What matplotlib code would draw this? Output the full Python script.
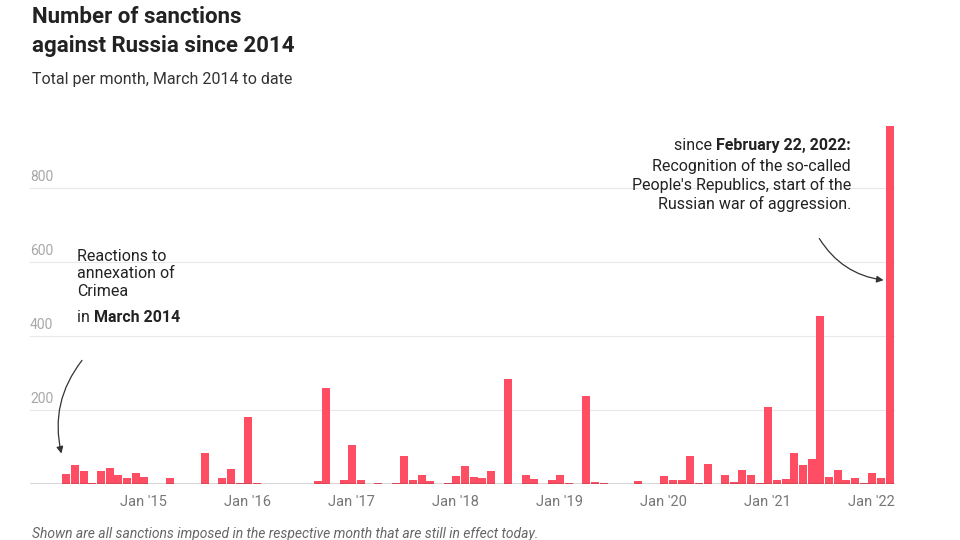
import matplotlib.pyplot as plt

plt.rcParams['font.family'] = ['Roboto', 'DejaVu Sans']

# monthly counts, March 2014 .. February 2022 (month index 0 = Mar 2014)
months = list(range(96))
counts = [27, 51, 36, 4, 36, 44, 23, 17, 31, 20, 0, 0, 17, 0, 0, 0,
          84, 0, 17, 41, 4, 180, 4, 0, 0, 0, 0, 0, 0, 9, 260, 0,
          12, 105, 12, 0, 4, 0, 4, 76, 12, 25, 9, 0, 4, 22, 49, 20,
          17, 36, 0, 284, 0, 25, 14, 0, 12, 25, 4, 0, 239, 6, 4, 0,
          0, 0, 9, 0, 0, 22, 11, 11, 76, 4, 54, 0, 25, 6, 39, 25,
          4, 209, 11, 14, 84, 51, 68, 454, 20, 39, 12, 17, 4, 31, 17, 967]
tick_pos = [10, 22, 34, 46, 58, 70, 82, 94]
tick_labels = ["Jan '15", "Jan '16", "Jan '17", "Jan '18", "Jan '19", "Jan '20", "Jan '21", "Jan '22"]

fig = plt.figure(figsize=(9.6, 5.4), dpi=100)
ax = fig.add_axes([30/960, 56/540, 865/960, 370/540])
ax.bar(months, counts, width=0.92, color='#ff4d63', zorder=3)
ax.set_xlim(-4.2, 95.6)
ax.set_ylim(0, 1000)
for v in [200, 400, 600, 800]:
    ax.axhline(v, color='#e8e8e8', lw=0.8, zorder=1)
    ax.text(-4.2, v + 12, str(v), color='#a8a8a8', fontsize=10, va='bottom')
ax.axhline(0, color='#333333', lw=1, zorder=4)
ax.set_yticks([])
ax.set_xticks([p - 1.1 for p in tick_pos])
ax.set_xticklabels(tick_labels, color='#777777', fontsize=10.5)
ax.tick_params(axis='x', length=0, pad=8)
for s in ax.spines.values():
    s.set_visible(False)

fig.text(32/960, 1 - 6/540, "Number of sanctions\nagainst Russia since 2014", fontsize=16,
         fontweight='bold', color='#222222', va='top', linespacing=1.4)
fig.text(32/960, 1 - 72/540, "Total per month, March 2014 to date", fontsize=11.5,
         color='#333333', va='top')
fig.text(32/960, 1 - 527/540, "Shown are all sanctions imposed in the respective month that are still in effect today.",
         fontsize=10, color='#666666', style='italic', va='top')

# left note
ax.text(1.2, 635, "Reactions to\nannexation of\nCrimea", fontsize=11.5,
        color='#222222', va='top', linespacing=1.2)
t_in = ax.text(1.2, 470, "in ", fontsize=11.5, color='#222222', va='top')
ax.annotate("March 2014", xy=(1, 0), xycoords=t_in, va='bottom', ha='left',
            fontsize=11.5, fontweight='bold', color='#222222')
ax.annotate("", xy=(-0.5, 75), xytext=(2, 340),
            arrowprops=dict(arrowstyle='-|>', color='#333333', lw=0.9,
                            connectionstyle='arc3,rad=0.25'))

# right note
t_b = ax.text(90.5, 935, "February 22, 2022:", fontsize=11.5, fontweight='bold',
              color='#222222', va='top', ha='right')
ax.annotate("since ", xy=(0, 0), xycoords=t_b, va='bottom', ha='right',
            fontsize=11.5, color='#222222')
ax.text(90.5, 880, "Recognition of the so-called\nPeople's Republics, start of the\nRussian war of aggression.",
        fontsize=11.5, color='#222222', va='top', ha='right', linespacing=1.2)
ax.annotate("", xy=(94.6, 550), xytext=(86.7, 670),
            arrowprops=dict(arrowstyle='-|>', color='#333333', lw=0.9,
                            connectionstyle='arc3,rad=0.25'))

fig.savefig('out.png', dpi=100)
